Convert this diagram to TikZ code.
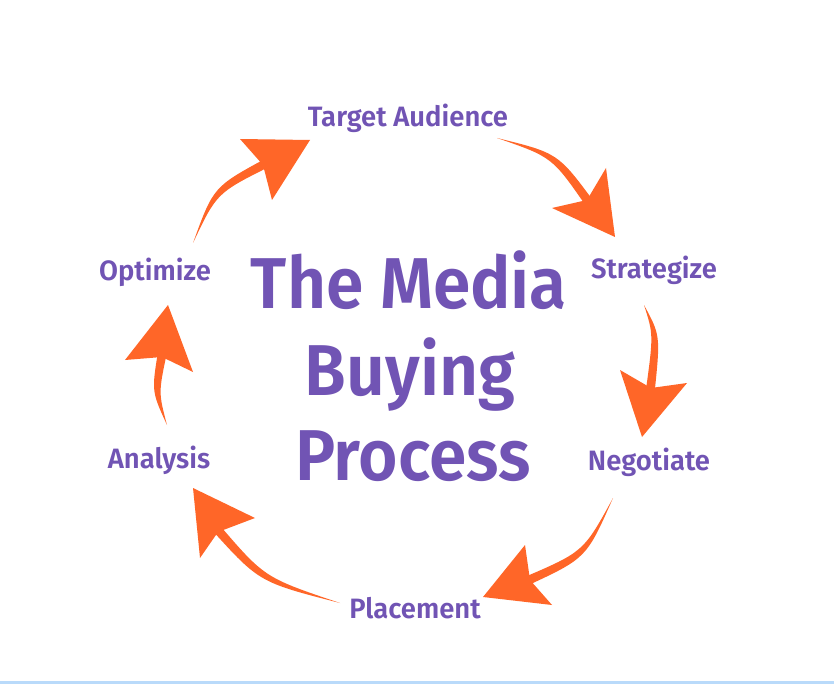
\documentclass[tikz,border=0pt]{standalone}
\usepackage{fontspec}
\newfontfamily\titlefont{Fira Sans SemiBold}[FakeStretch=0.94]
\newfontfamily\labelfont{Fira Sans SemiBold}[FakeStretch=0.98]
\usetikzlibrary{calc}
\definecolor{mpurple}{RGB}{113,84,180}
\definecolor{morange}{RGB}{255,102,40}
\definecolor{edgeblue}{RGB}{185,218,250}
% #1 tail, #2 control, #3 notch, #4 tip, #5 barb, #6 barb
\newcommand\mbarrow[6]{%
  \coordinate (tmpE) at ($(#3)!6pt!(#4)$);
  \fill[arrowfill] (#1) .. controls ($(#2)!3.5pt!-90:(tmpE)$) .. ($(tmpE)!4.5pt!90:(#2)$)
     -- ($(tmpE)!4.5pt!-90:(#2)$) .. controls ($(#2)!3.5pt!90:(tmpE)$) .. (#1) -- cycle;
  \fill[arrowfill] (#4) -- (#5) -- (#3) -- (#6) -- cycle;}
\begin{document}
\begin{tikzpicture}[x=1pt,y=-1pt,
  lab/.style={font=\labelfont\fontsize{28}{32}\selectfont, text=mpurple, anchor=base, inner sep=0pt},
  ttl/.style={font=\titlefont\fontsize{72}{86}\selectfont, text=mpurple, anchor=base, inner sep=0pt},
  arrowfill/.style={fill=morange, draw=none}]
\useasboundingbox (0,0) rectangle (834,684);
\fill[white] (0,0) rectangle (834,684);
\fill[edgeblue] (0,681) rectangle (834,684);

% title
\node[ttl] (t1) at (409,308) {The Media};
\node[ttl] (t2) at (410,395) {Buying};
\node[ttl] (t3) at (413,480) {Process};

% labels
\node[lab] (target) at (408,127) {Target Audience};
\node[lab] (strat) at (654,279) {Strategize};
\node[lab] (nego) at (649,470) {Negotiate};
\node[lab] (place) at (415,618) {Placement};
\node[lab] (anal) at (159,468) {Analysis};
\node[lab] (opt) at (155,280) {Optimize};

% arrow geometry
\coordinate (a1t) at (193,243); \coordinate (a1c) at (215,190); \coordinate (a1n) at (263,165);
\coordinate (a1h) at (310,140); \coordinate (a1b) at (240,139); \coordinate (a1d) at (272,200);

\coordinate (a2t) at (497,138); \coordinate (a2c) at (555,155); \coordinate (a2n) at (587,200);
\coordinate (a2h) at (615,237); \coordinate (a2b) at (606,168); \coordinate (a2d) at (552,208);

\coordinate (a3t) at (644,305); \coordinate (a3c) at (657,335); \coordinate (a3n) at (651,388);
\coordinate (a3h) at (642,437); \coordinate (a3b) at (620,370); \coordinate (a3d) at (687,383);

\coordinate (a4t) at (613,498); \coordinate (a4c) at (585,555); \coordinate (a4n) at (530,580);
\coordinate (a4h) at (483,597); \coordinate (a4b) at (525,545); \coordinate (a4d) at (552,605);

\coordinate (a5t) at (340,603); \coordinate (a5c) at (262,580); \coordinate (a5n) at (218,532);
\coordinate (a5h) at (193,488); \coordinate (a5b) at (255,518); \coordinate (a5d) at (200,558);

\coordinate (a6t) at (167,425); \coordinate (a6c) at (155,392); \coordinate (a6n) at (162,357);
\coordinate (a6h) at (168,305); \coordinate (a6b) at (125,360); \coordinate (a6d) at (193,372);

\mbarrow{a1t}{a1c}{a1n}{a1h}{a1b}{a1d}
\mbarrow{a2t}{a2c}{a2n}{a2h}{a2b}{a2d}
\mbarrow{a3t}{a3c}{a3n}{a3h}{a3b}{a3d}
\mbarrow{a4t}{a4c}{a4n}{a4h}{a4b}{a4d}
\mbarrow{a5t}{a5c}{a5n}{a5h}{a5b}{a5d}
\mbarrow{a6t}{a6c}{a6n}{a6h}{a6b}{a6d}
\end{tikzpicture}
\end{document}
